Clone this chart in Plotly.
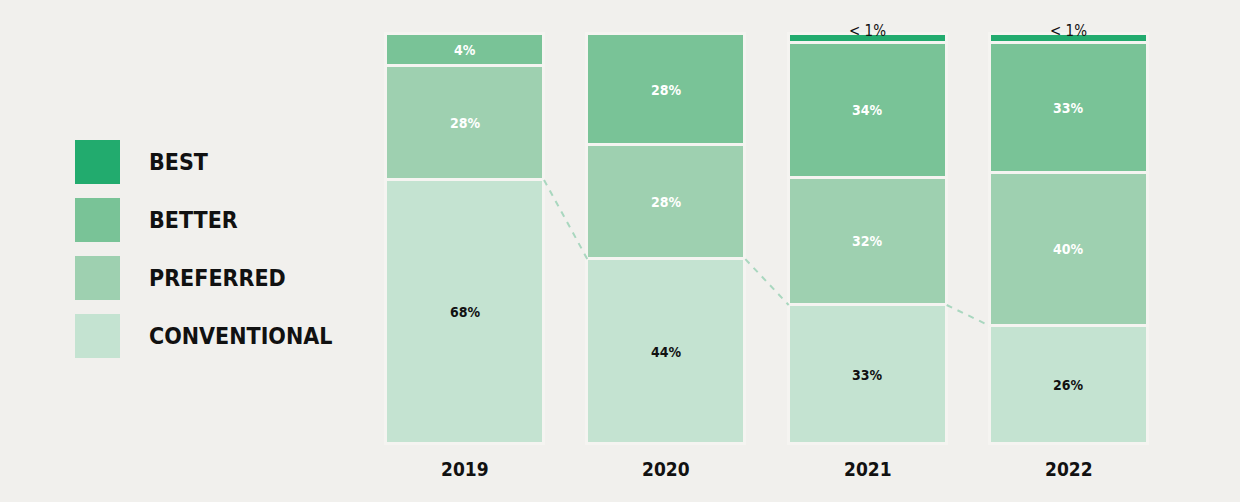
import plotly.graph_objects as go

# ---- data (segment heights as drawn, in % of bar) ----
years = ["2019", "2020", "2021", "2022"]
conventional = [64.4, 45.1, 33.9, 28.8]
preferred = [27.9, 27.8, 31.0, 37.4]
better = [7.7, 27.1, 33.0, 31.7]
best = [0.0, 0.0, 2.1, 2.1]

# printed labels
conventional_lbl = ["68%", "44%", "33%", "26%"]
preferred_lbl = ["28%", "28%", "32%", "40%"]
better_lbl = ["4%", "28%", "34%", "33%"]
best_lbl = ["", "", "< 1%", "< 1%"]

legend_names = ["BEST", "BETTER", "PREFERRED", "CONVENTIONAL"]

# ---- style ----
BG = "#f1f0ed"
GAP = "#f5f4f1"
C_BEST = "#22ab6e"
C_BETTER = "#79c397"
C_PREF = "#9ed0b0"
C_CONV = "#c4e3d1"
FONT = "DejaVu Sans Condensed, Liberation Sans Narrow, Arial Narrow, sans-serif"

xs = list(range(len(years)))
W = 0.785

series = [
    ("Conventional", conventional, C_CONV, conventional_lbl, "#111111"),
    ("Preferred", preferred, C_PREF, preferred_lbl, "#ffffff"),
    ("Better", better, C_BETTER, better_lbl, "#ffffff"),
    ("Best", best, C_BEST, best_lbl, "#111111"),
]

fig = go.Figure()
annotations = []
base = [0.0] * len(years)
for name, vals, col, lbls, tcol in series:
    fig.add_trace(go.Bar(
        x=xs, y=vals, width=W, name=name,
        marker=dict(color=col, line=dict(color=GAP, width=3)),
        showlegend=False, hoverinfo="skip",
    ))
    for i, (v, t) in enumerate(zip(vals, lbls)):
        if not t:
            continue
        if name == "Best":
            annotations.append(dict(
                x=xs[i], y=base[i] + v, xref="x", yref="y", text=t,
                showarrow=False, yanchor="bottom", yshift=-8,
                font=dict(family=FONT, size=15, color=tcol)))
        else:
            annotations.append(dict(
                x=xs[i], y=base[i] + v / 2, xref="x", yref="y", text=t,
                showarrow=False,
                font=dict(family=FONT, size=14, color=tcol, weight="bold")))
    base = [b + v for b, v in zip(base, vals)]

# dashed connectors between conventional tops
lx, ly = [], []
for i in range(len(years) - 1):
    lx += [xs[i] + W / 2, xs[i + 1] - W / 2, None]
    ly += [conventional[i], conventional[i + 1], None]
fig.add_trace(go.Scatter(
    x=lx, y=ly, mode="lines",
    line=dict(color="#a9d7bf", width=2, dash="6px,6px"),
    showlegend=False, hoverinfo="skip",
))

# year labels
for i, yr in enumerate(years):
    annotations.append(dict(
        x=xs[i], y=0, xref="x", yref="y", text=yr, showarrow=False,
        yanchor="top", yshift=-12,
        font=dict(family=FONT, size=19, color="#111111", weight="bold")))

# custom legend
shapes = []
leg_cols = [C_BEST, C_BETTER, C_PREF, C_CONV]
H = 502.0
Wd = 1240.0
for k, (nm, col) in enumerate(zip(legend_names, leg_cols)):
    top = 140 + k * 58
    bot = top + 44
    shapes.append(dict(
        type="rect", xref="paper", yref="paper",
        x0=75 / Wd, x1=120 / Wd, y0=1 - bot / H, y1=1 - top / H,
        fillcolor=col, line=dict(width=0), layer="below"))
    annotations.append(dict(
        x=147 / Wd, y=1 - (top + 22) / H, xref="paper", yref="paper",
        text=nm, showarrow=False, xanchor="left", yanchor="middle",
        font=dict(family=FONT, size=23, color="#111111", weight="bold")))

px_per_unit = 201.33
x0 = -465 / px_per_unit
x1 = (1240 - 465) / px_per_unit
ypx = 4.1
y0 = -(502 - 444) / ypx
y1 = 100 + 34 / ypx

fig.update_layout(
    width=1240, height=502,
    barmode="stack", bargap=0,
    paper_bgcolor=BG, plot_bgcolor=BG,
    margin=dict(l=0, r=0, t=0, b=0),
    xaxis=dict(range=[x0, x1], domain=[0, 1], visible=False, fixedrange=True),
    yaxis=dict(range=[y0, y1], domain=[0, 1], visible=False, fixedrange=True),
    annotations=annotations, shapes=shapes,
)

fig.write_html(
    "out.html",
    config={"displayModeBar": False},
    post_script="document.body.style.margin='0';document.body.style.background='%s';" % BG,
)
